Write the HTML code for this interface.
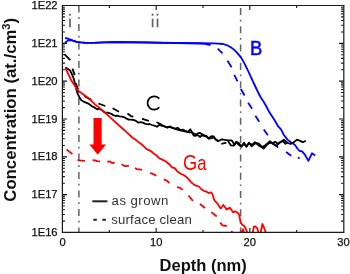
<!DOCTYPE html>
<html><head><meta charset="utf-8"><style>
html,body{margin:0;padding:0;background:#fff;}
body{width:350px;height:274px;overflow:hidden;}
svg{display:block;will-change:transform;}
</style></head><body>
<svg width="350" height="274" viewBox="0 0 350 274">
<rect width="350" height="274" fill="#fff"/>
<line x1="78.9" y1="5.5" x2="78.9" y2="232" stroke="#636363" stroke-width="1.5" stroke-dasharray="7 4.7 1.7 5.1"/>
<line x1="240.6" y1="8" x2="240.6" y2="232" stroke="#636363" stroke-width="1.5" stroke-dasharray="7 4.7 1.7 4.9"/>
<polyline points="65.1,38.0 68.0,38.6 70.3,39.5 73.0,40.6 75.8,41.6 80.6,42.3 86.0,42.8 95.0,42.7 105.0,42.3 115.0,42.0 145.0,42.4 175.0,43.0 198.0,43.1 214.4,43.4 223.2,44.0 228.0,45.7 231.4,47.6 234.8,50.4 237.6,53.4 240.6,56.8 243.9,62.4 247.2,69.0 250.5,76.2 253.9,83.5 257.2,90.5 260.5,97.0 263.6,101.8 266.4,106.5 268.5,110.7 270.7,114.2 273.5,118.5 276.0,122.5 278.0,126.2 281.0,129.4 283.9,135.0 287.5,139.6 291.2,142.5 294.8,144.7 297.4,148.5 299.6,151.0 301.8,151.2 304.9,154.7 308.4,160.9 312.0,153.3 315.2,155.5" fill="none" stroke="#0000ff" stroke-width="1.8" stroke-linejoin="round"/>
<polyline points="64.9,42.8 68.9,40.0 72.0,40.3 76.0,41.6 80.6,42.4 86.0,42.9 95.0,42.8 105.0,42.4 115.0,42.1 145.0,42.5 175.0,43.1 200.0,43.5 204.6,43.9" fill="none" stroke="#0000ff" stroke-width="1.8" stroke-linejoin="round"/>
<path d="M204.6,43.9L210.6,45.1M217.7,48.7L222.6,53.3M227.5,60.8L231.6,67.3M234.3,74.8L237.5,81.3M240.8,89.0L244.6,95.5M248.1,102.7L252.1,108.7M255.4,115.8L259.2,121.8M263.8,129.4L267.8,135.2M273.0,143.2L278.1,147.6M286.1,152.0L291.2,155.7M297.8,157.6L299.6,158.1" fill="none" stroke="#0000ff" stroke-width="1.8"/>
<polyline points="161.0,124.6 165.0,126.8 170.0,127.2 175.0,128.8 180.0,130.3 185.0,131.3 188.0,132.2 192.0,132.6 196.0,134.5 198.0,135.3 200.1,137.0 201.9,135.3 204.1,136.0 206.4,136.6 208.7,138.5 212.1,138.1 213.9,137.0 215.6,139.6 218.4,141.4" fill="none" stroke="#000000" stroke-width="1.8" stroke-linejoin="round"/>
<polyline points="228.0,141.2 231.0,145.4 233.5,145.6 236.5,141.8 239.0,143.2 241.5,146.8 244.0,142.6 246.5,146.8 249.0,142.8 251.5,146.2 255.5,143.2 258.5,143.4 261.0,145.8 263.6,148.6 267.5,144.2 270.8,142.4 273.5,144.2 276.5,145.8 279.5,142.4 283.0,141.2 285.5,143.8 288.0,142.3" fill="none" stroke="#000000" stroke-width="1.8" stroke-linejoin="round"/>
<path d="M64.4,54.2L70.2,60.2M72.5,68.6L74.7,75.1M75.8,83.2L78.2,89.6M84.5,96.1L91.3,99.9M98.4,103.5L105.3,106.0M112.6,108.3L119.0,111.8M127.4,113.6L130.0,115.3L130.9,116.1L133.4,116.6M142.0,118.7L144.6,119.6L147.1,120.4L149.0,120.8M156.5,122.3L161.0,124.3M221.3,143.9L226.4,142.7" fill="none" stroke="#000000" stroke-width="1.8"/>
<polyline points="65.3,67.5 67.6,68.8 70.3,70.8 71.6,73.4 73.5,78.0 75.3,84.5 76.4,89.5 77.6,93.7 79.4,97.2 81.3,100.2 84.8,102.2 88.3,103.6 92.0,106.3 94.1,107.2 95.9,108.5 97.6,109.4 99.3,108.7 101.0,109.6 102.7,110.9 104.9,112.5 107.0,112.7 109.1,113.0 111.3,113.9 113.4,115.1 115.6,116.0 117.3,115.6 119.4,116.3 122.3,116.6 124.4,117.3 126.6,118.7 128.7,119.6 130.9,119.6 133.9,120.0 136.0,120.9 138.6,122.7 140.7,122.1 142.9,122.6 145.4,123.9 148.0,124.3 149.5,124.0 152.0,125.0 155.0,125.8 157.0,126.8 159.5,124.8 162.3,125.9 165.1,126.4 167.4,127.8 169.7,126.4 172.6,127.8 174.9,128.5 177.7,127.8 180.6,130.1 182.9,129.6 185.1,130.8 188.0,131.9 190.3,129.3 192.0,132.1 193.7,135.6 196.0,135.8 197.3,133.6 199.6,132.8 201.9,134.1 204.1,135.3 206.4,135.9 208.7,138.5 211.0,136.4 213.3,136.2 215.6,139.3 218.4,141.0 221.9,139.3 224.7,139.9 228.1,140.4 231.6,140.4 233.2,142.5 234.3,145.2 236.0,142.2 238.6,144.7 241.1,146.4 243.7,143.9 246.3,146.4 248.9,143.0 252.3,144.7 254.9,142.2 258.3,145.2 261.7,147.3 264.9,145.4 267.8,143.2 270.0,141.1 272.2,143.2 275.1,141.8 278.1,144.0 281.0,141.8 283.9,139.6 286.8,142.5 290.5,144.0 293.4,142.5 297.0,139.6 300.7,141.1 302.9,142.3 305.8,140.8" fill="none" stroke="#000000" stroke-width="1.8" stroke-linejoin="round"/>
<polyline points="65.3,67.8 71.4,80.6 77.5,90.1 81.3,93.0 85.6,96.1 90.9,100.4 95.3,104.6 100.0,108.3 105.5,113.2 111.0,118.1 116.4,123.1 121.9,128.0 127.4,132.9 130.2,135.5 132.4,137.7 135.1,139.3 139.0,142.6 142.2,144.8 146.6,149.2 150.5,150.8 153.7,153.5 156.5,155.5 159.4,158.4 162.7,159.9 166.0,161.5 169.2,164.2 172.0,167.3 174.7,168.1 177.5,171.6 180.2,173.5 183.5,175.0 185.7,176.4 188.5,179.1 191.2,182.4 194.0,184.6 196.1,185.7 198.9,186.5 201.1,189.0 203.8,190.8 206.5,191.7 208.7,193.0 210.9,192.3 212.4,194.0 214.0,199.5 215.1,201.1 217.3,203.3 219.0,206.1 220.6,208.6 221.7,207.2 223.3,205.0 225.0,207.2 226.6,209.6 228.3,208.6 229.9,207.7 231.5,209.9 233.2,212.4 235.4,211.3 237.0,212.4 238.5,213.5 239.3,215.4 240.0,219.2 240.8,223.1 242.4,224.7 244.6,226.4 245.7,228.5 246.8,231.3 247.3,232.8" fill="none" stroke="#ff0000" stroke-width="1.8" stroke-linejoin="round"/>
<polyline points="252.7,232.8 253.9,226.7 255.6,226.5 257.3,228.4 258.4,232.8" fill="none" stroke="#ff0000" stroke-width="1.8" stroke-linejoin="round"/>
<polyline points="260.7,232.8 262.4,223.9 264.1,227.9 265.9,232.8" fill="none" stroke="#ff0000" stroke-width="1.8" stroke-linejoin="round"/>
<path d="M66.6,149.5L72.4,154.1M77.6,159.6L79.0,160.4L85.0,160.9M92.6,160.2L95.0,160.4L97.0,161.2L100.0,161.4M107.4,162.0L109.1,161.3L111.3,162.4L112.6,163.2L114.7,162.6M121.6,164.3L123.3,165.3L125.0,166.1L128.9,165.9M135.0,167.9L136.7,169.1L139.7,169.3L142.1,170.0M150.0,173.0L152.6,173.9L156.4,175.8M163.9,179.4L166.4,180.5L168.1,181.8L169.3,183.3M177.1,187.1L179.3,187.6L182.7,189.7M188.5,195.5L192.9,201.0M200.0,204.0L205.0,208.0M211.3,212.1L216.8,216.5M220.3,222.5L222.2,225.3L226.8,226.0M231.3,231.0L232.5,232.5M241.3,232.5L243.0,229.3L244.1,232.5" fill="none" stroke="#ff0000" stroke-width="1.8" stroke-linejoin="round"/>
<polygon points="93.5,118 101.7,118 101.7,144.6 106.1,144.6 97.7,154.7 89.4,144.6 93.5,144.6" fill="#ff0000"/>
<path d="M62.5,221.11h2.4M343.5,221.11h-2.4M62.5,214.45h2.4M343.5,214.45h-2.4M62.5,209.72h2.4M343.5,209.72h-2.4M62.5,206.06h2.4M343.5,206.06h-2.4M62.5,203.06h2.4M343.5,203.06h-2.4M62.5,200.53h2.4M343.5,200.53h-2.4M62.5,198.33h2.4M343.5,198.33h-2.4M62.5,196.40h2.4M343.5,196.40h-2.4M62.5,194.67h4.5M343.5,194.67h-4.5M62.5,183.28h2.4M343.5,183.28h-2.4M62.5,176.62h2.4M343.5,176.62h-2.4M62.5,171.89h2.4M343.5,171.89h-2.4M62.5,168.22h2.4M343.5,168.22h-2.4M62.5,165.23h2.4M343.5,165.23h-2.4M62.5,162.69h2.4M343.5,162.69h-2.4M62.5,160.50h2.4M343.5,160.50h-2.4M62.5,158.56h2.4M343.5,158.56h-2.4M62.5,156.83h4.5M343.5,156.83h-4.5M62.5,145.44h2.4M343.5,145.44h-2.4M62.5,138.78h2.4M343.5,138.78h-2.4M62.5,134.06h2.4M343.5,134.06h-2.4M62.5,130.39h2.4M343.5,130.39h-2.4M62.5,127.39h2.4M343.5,127.39h-2.4M62.5,124.86h2.4M343.5,124.86h-2.4M62.5,122.67h2.4M343.5,122.67h-2.4M62.5,120.73h2.4M343.5,120.73h-2.4M62.5,119.00h4.5M343.5,119.00h-4.5M62.5,107.61h2.4M343.5,107.61h-2.4M62.5,100.95h2.4M343.5,100.95h-2.4M62.5,96.22h2.4M343.5,96.22h-2.4M62.5,92.56h2.4M343.5,92.56h-2.4M62.5,89.56h2.4M343.5,89.56h-2.4M62.5,87.03h2.4M343.5,87.03h-2.4M62.5,84.83h2.4M343.5,84.83h-2.4M62.5,82.90h2.4M343.5,82.90h-2.4M62.5,81.17h4.5M343.5,81.17h-4.5M62.5,69.78h2.4M343.5,69.78h-2.4M62.5,63.12h2.4M343.5,63.12h-2.4M62.5,58.39h2.4M343.5,58.39h-2.4M62.5,54.72h2.4M343.5,54.72h-2.4M62.5,51.73h2.4M343.5,51.73h-2.4M62.5,49.19h2.4M343.5,49.19h-2.4M62.5,47.00h2.4M343.5,47.00h-2.4M62.5,45.06h2.4M343.5,45.06h-2.4M62.5,43.33h4.5M343.5,43.33h-4.5M62.5,31.94h2.4M343.5,31.94h-2.4M62.5,25.28h2.4M343.5,25.28h-2.4M62.5,20.56h2.4M343.5,20.56h-2.4M62.5,16.89h2.4M343.5,16.89h-2.4M62.5,13.89h2.4M343.5,13.89h-2.4M62.5,11.36h2.4M343.5,11.36h-2.4M62.5,9.17h2.4M343.5,9.17h-2.4M62.5,7.23h2.4M343.5,7.23h-2.4M109.33,232.5v-2.5M109.33,5.5v2.5M156.17,232.5v-4.5M156.17,5.5v4.5M203.00,232.5v-2.5M203.00,5.5v2.5M249.83,232.5v-4.5M249.83,5.5v4.5M296.67,232.5v-2.5M296.67,5.5v2.5" stroke="#111" stroke-width="1.1" fill="none"/>
<path d="M62.4,5.5V232.4M61.8,5.5H344.5M343.8,5V233.1M61.8,232.4H344.5" stroke="#1a1a1a" fill="none" stroke-width="1.2"/>
<g font-family="Liberation Sans, sans-serif" font-size="11.2" fill="#111" stroke="#111" stroke-width="0.25"><text x="57.6" y="236.1" text-anchor="end">1E16</text><text x="57.6" y="198.3" text-anchor="end">1E17</text><text x="57.6" y="160.4" text-anchor="end">1E18</text><text x="57.6" y="122.6" text-anchor="end">1E19</text><text x="57.6" y="84.8" text-anchor="end">1E20</text><text x="57.6" y="46.9" text-anchor="end">1E21</text><text x="57.6" y="9.1" text-anchor="end">1E22</text><text x="62.5" y="246.3" text-anchor="middle">0</text><text x="156.2" y="246.3" text-anchor="middle">10</text><text x="249.8" y="246.3" text-anchor="middle">20</text><text x="343.5" y="246.3" text-anchor="middle">30</text></g>
<g fill="#636363"><rect x="69.15" y="18.6" width="1.7" height="8.7"/><rect x="69.10" y="13.7" width="1.8" height="2"/><rect x="151.75" y="18.6" width="1.7" height="8.7"/><rect x="151.70" y="13.7" width="1.8" height="2"/><rect x="156.65" y="18.6" width="1.7" height="8.7"/><rect x="156.60" y="13.7" width="1.8" height="2"/></g>
<text transform="translate(159.6,270.5) scale(0.985,1)" font-family="Liberation Sans, sans-serif" font-size="16.8" font-weight="bold" fill="#111">Depth (nm)</text>
<text transform="translate(16.2,201.7) rotate(-90) scale(0.968,1)" font-family="Liberation Sans, sans-serif" font-size="17.3" font-weight="bold" fill="#111">Concentration (at./cm<tspan dy="-6" font-size="11.5">3</tspan><tspan dy="6">)</tspan></text>
<text transform="translate(250,55) scale(0.88,1)" font-family="Liberation Sans, sans-serif" font-size="21" fill="#0000ff" stroke="#0000ff" stroke-width="0.5">B</text>
<path d="M159.29,98.68A6.65,6.65 0 1 0 159.29,107.22" fill="none" stroke="#000" stroke-width="1.8"/>
<text transform="translate(183,169.7) scale(0.85,1)" font-family="Liberation Sans, sans-serif" font-size="21.5" fill="#ff0000">G<tspan font-size="19.5">a</tspan></text>
<line x1="92.3" y1="201.3" x2="107.4" y2="201.3" stroke="#222" stroke-width="2"/>
<line x1="93.3" y1="219.7" x2="106.2" y2="219.7" stroke="#222" stroke-width="2" stroke-dasharray="3.5 5.6"/>
<g font-family="Liberation Sans, sans-serif" font-size="13.2" fill="#333" letter-spacing="0.45"><text x="111.6" y="205.2">as grown</text><text x="111.2" y="224.4" letter-spacing="0.18">surface clean</text></g>
</svg>
</body></html>
